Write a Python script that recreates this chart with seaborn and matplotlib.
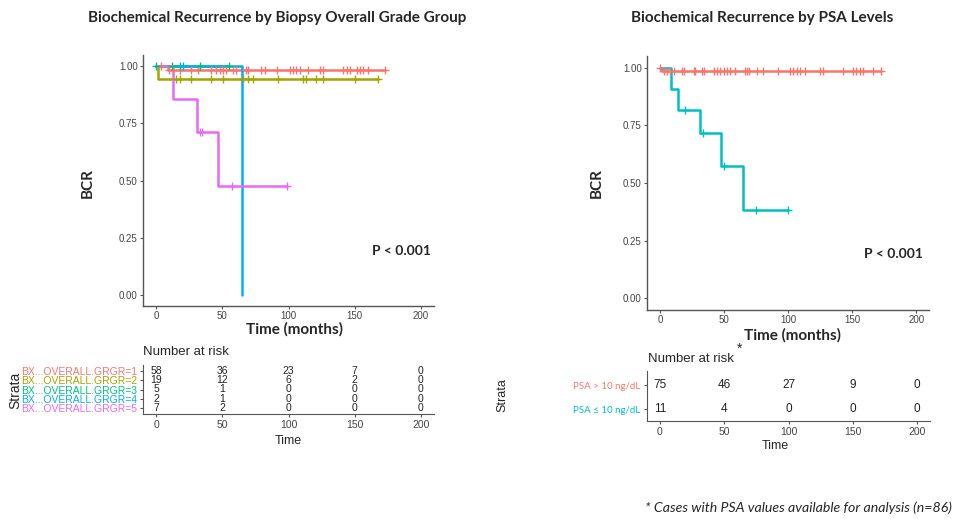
import numpy as np
import pandas as pd
import matplotlib
matplotlib.use("Agg")
import matplotlib.pyplot as plt
import seaborn as sns

# ---------------- data ----------------
time_ticks = [0, 50, 100, 150, 200]

# left panel: biopsy overall grade group
grade_labels = ["BX...OVERALL.GRGR=1", "BX...OVERALL.GRGR=2", "BX...OVERALL.GRGR=3",
                "BX...OVERALL.GRGR=4", "BX...OVERALL.GRGR=5"]
grade_colors = ["#F8766D", "#A3A500", "#00BF7D", "#00B0F6", "#E76BF3"]

g1_time = [0, 9, 173]
g1_surv = [1.0, 0.983, 0.983]
g1_cens = [3.8, 10, 12.6, 17.7, 26.5, 31.6, 41.7, 45.5, 48, 50.5, 53, 58, 60.6, 68, 69.5,
           79.5, 82, 91, 101, 103.5, 106, 108.6, 115, 124, 126, 141, 144, 146.5, 151.5,
           154, 156.6, 160, 173]

g2_time = [0, 1, 168]
g2_surv = [1.0, 0.947, 0.947]
g2_cens = [15, 17.7, 26.5, 41.7, 50.5, 65.6, 69.5, 73, 92, 111, 113.6, 121, 126, 150, 168]

g3_time = [0, 55]
g3_surv = [1.0, 1.0]
g3_cens = [0, 12, 18, 33, 55]

g4_time = [0, 65]
g4_surv = [1.0, 0.0]
g4_cens = [20]

g5_time = [0, 12.6, 30.8, 46.7, 99]
g5_surv = [1.0, 0.857, 0.714, 0.476, 0.476]
g5_cens = [33, 34.5, 57.6, 99]

grade_risk = [[58, 36, 23, 7, 0],
              [19, 12, 6, 2, 0],
              [5, 1, 0, 0, 0],
              [2, 1, 0, 0, 0],
              [7, 2, 0, 0, 0]]

# right panel: PSA levels
psa_labels = ["PSA > 10 ng/dL", "PSA \u2264 10 ng/dL"]
psa_colors = ["#F8766D", "#00BFC4"]

hi_time = [0, 1.8, 172.8]
hi_surv = [1.0, 0.987, 0.987]
hi_cens = [0.5, 3.1, 5.7, 8.3, 10.9, 17.4, 18.7, 26.4, 27.7, 32.9, 34.2, 42.5, 44.6, 47.1,
           50.2, 52.3, 54.9, 58.8, 66.6, 67.9, 69.2, 75.6, 80.8, 92.5, 101.5, 104.1, 106.7,
           109.3, 113.2, 124.8, 127.4, 143, 150.7, 153.3, 155.9, 158.5, 166.3, 172.8]

lo_time = [0, 8.8, 14, 31, 47.6, 64.7, 100]
lo_surv = [1.0, 0.909, 0.818, 0.716, 0.573, 0.382, 0.382]
lo_cens = [20, 33.7, 50.2, 75, 100]

psa_risk = [[75, 46, 27, 9, 0],
            [11, 4, 0, 0, 0]]

# ---------------- style ----------------
sns.set_style("ticks")
plt.rcParams['font.family'] = ['Liberation Sans', 'DejaVu Sans']
TXT = ['Lato', 'DejaVu Sans']
GREY = "#555555"


def surv_at(times, survs, t):
    i = np.searchsorted(times, t, side='right') - 1
    return survs[max(i, 0)]


def km_panel(ax, curves, colors):
    for (t, s, c), col in zip(curves, colors):
        df = pd.DataFrame({"time": t, "surv": s})
        sns.lineplot(data=df, x="time", y="surv", drawstyle="steps-post", estimator=None,
                     sort=False, color=col, lw=1.8, ax=ax)
        cens = pd.DataFrame({"time": c, "surv": [surv_at(t, s, x) for x in c]})
        sns.scatterplot(data=cens, x="time", y="surv", marker="+", s=30, linewidth=1.0,
                        color=col, ax=ax, zorder=3)
    ax.set_xlim(-10, 210)
    ax.set_ylim(-0.05, 1.05)
    ax.set_xticks(time_ticks)
    ax.set_yticks([0, 0.25, 0.5, 0.75, 1.0])
    ax.set_yticklabels(["0.00", "0.25", "0.50", "0.75", "1.00"])
    ax.set_xlabel("")
    ax.set_ylabel("")
    ax.tick_params(labelsize=7, colors=GREY, length=2.2, width=0.8, pad=1.5,
                   labelcolor="#444444")
    for sp in ["top", "right"]:
        ax.spines[sp].set_visible(False)
    for sp in ["left", "bottom"]:
        ax.spines[sp].set_color(GREY)
        ax.spines[sp].set_linewidth(1.0)


def risk_panel(ax, risk, labels, colors, fsize, lab_size, lab_family, ylim):
    for row, vals in enumerate(risk, start=1):
        for x, v in zip(time_ticks, vals):
            ax.text(x, row, str(v), ha="center", va="center", fontsize=fsize, color="#222222")
    ax.set_xlim(-10, 210)
    ax.set_ylim(*ylim)
    ax.set_xticks(time_ticks)
    ax.set_yticks(range(1, len(risk) + 1))
    ax.set_yticklabels(labels, fontsize=lab_size, family=lab_family)
    ax.tick_params(axis="x", labelsize=7.5, colors=GREY, labelcolor="#444444",
                   length=2.5, pad=2)
    ax.tick_params(axis="y", length=2.5, colors=GREY, pad=2)
    for lab, col in zip(ax.get_yticklabels(), colors):
        lab.set_color(col)
    for sp in ["top", "right"]:
        ax.spines[sp].set_visible(False)
    for sp in ["left", "bottom"]:
        ax.spines[sp].set_color(GREY)


W, H = 955, 519
fig = plt.figure(figsize=(W / 100, H / 100), dpi=100)
fig.patch.set_facecolor("white")


def box(x0, x1, y0, y1):
    return [x0 / W, 1 - y1 / H, (x1 - x0) / W, (y1 - y0) / H]


# ---------- left ----------
axL = fig.add_axes(box(143, 434, 55, 306))
km_panel(axL,
         [(g1_time, g1_surv, g1_cens), (g2_time, g2_surv, g2_cens), (g3_time, g3_surv, g3_cens),
          (g4_time, g4_surv, g4_cens), (g5_time, g5_surv, g5_cens)],
         grade_colors)
axL.text(0.99, 0.22, "P < 0.001", transform=axL.transAxes, ha="right", va="center",
         fontsize=10, fontweight="bold", family=TXT)
fig.text(88 / W, 1 - 183 / H, "BCR", rotation=90, ha="center", va="center",
         fontsize=11, fontweight="bold", family=TXT)
fig.text(294 / W, 1 - 329 / H, "Time (months)", ha="center", va="center",
         fontsize=11, fontweight="bold", family=TXT)
fig.text(277 / W, 1 - 18 / H, "Biochemical Recurrence by Biopsy Overall Grade Group",
         ha="center", va="center", fontsize=11, fontweight="bold", family=TXT)

axLr = fig.add_axes(box(143, 434, 365, 414))
risk_panel(axLr, grade_risk, grade_labels, grade_colors, 7.5, 7.5, 'Liberation Sans', (5.6, 0.4))
fig.text(143 / W, 1 - 352 / H, "Number at risk", ha="left", va="center", fontsize=9.5)
fig.text(288 / W, 1 - 441 / H, "Time", ha="center", va="center", fontsize=9)
fig.text(15 / W, 1 - 390 / H, "Strata", rotation=90, ha="center", va="center", fontsize=10)

# ---------- right ----------
axR = fig.add_axes(box(647, 929, 56, 310))
km_panel(axR, [(hi_time, hi_surv, hi_cens), (lo_time, lo_surv, lo_cens)], psa_colors)
axR.text(0.98, 0.22, "P < 0.001", transform=axR.transAxes, ha="right", va="center",
         fontsize=10, fontweight="bold", family=TXT)
fig.text(597 / W, 1 - 183 / H, "BCR", rotation=90, ha="center", va="center",
         fontsize=11, fontweight="bold", family=TXT)
fig.text(792 / W, 1 - 335 / H, "Time (months)", ha="center", va="center",
         fontsize=11, fontweight="bold", family=TXT)
fig.text(762 / W, 1 - 18 / H, "Biochemical Recurrence by PSA Levels",
         ha="center", va="center", fontsize=11, fontweight="bold", family=TXT)

axRr = fig.add_axes(box(647, 930, 371, 421))
risk_panel(axRr, psa_risk, psa_labels, psa_colors, 8.5, 7, TXT, (2.5, 0.4))
fig.text(648 / W, 1 - 359 / H, "Number at risk", ha="left", va="center", fontsize=9.5)
fig.text(740 / W, 1 - 349 / H, "*", ha="center", va="center", fontsize=10)
fig.text(775 / W, 1 - 446 / H, "Time", ha="center", va="center", fontsize=9)
fig.text(502 / W, 1 - 395 / H, "Strata", rotation=90, ha="center", va="center", fontsize=9)

fig.text(645 / W, 1 - 508 / H, "* Cases with PSA values available for analysis (n=86)",
         ha="left", va="center", fontsize=10.2, style="italic", family=TXT)

fig.savefig("out.png", dpi=100, facecolor="white")
